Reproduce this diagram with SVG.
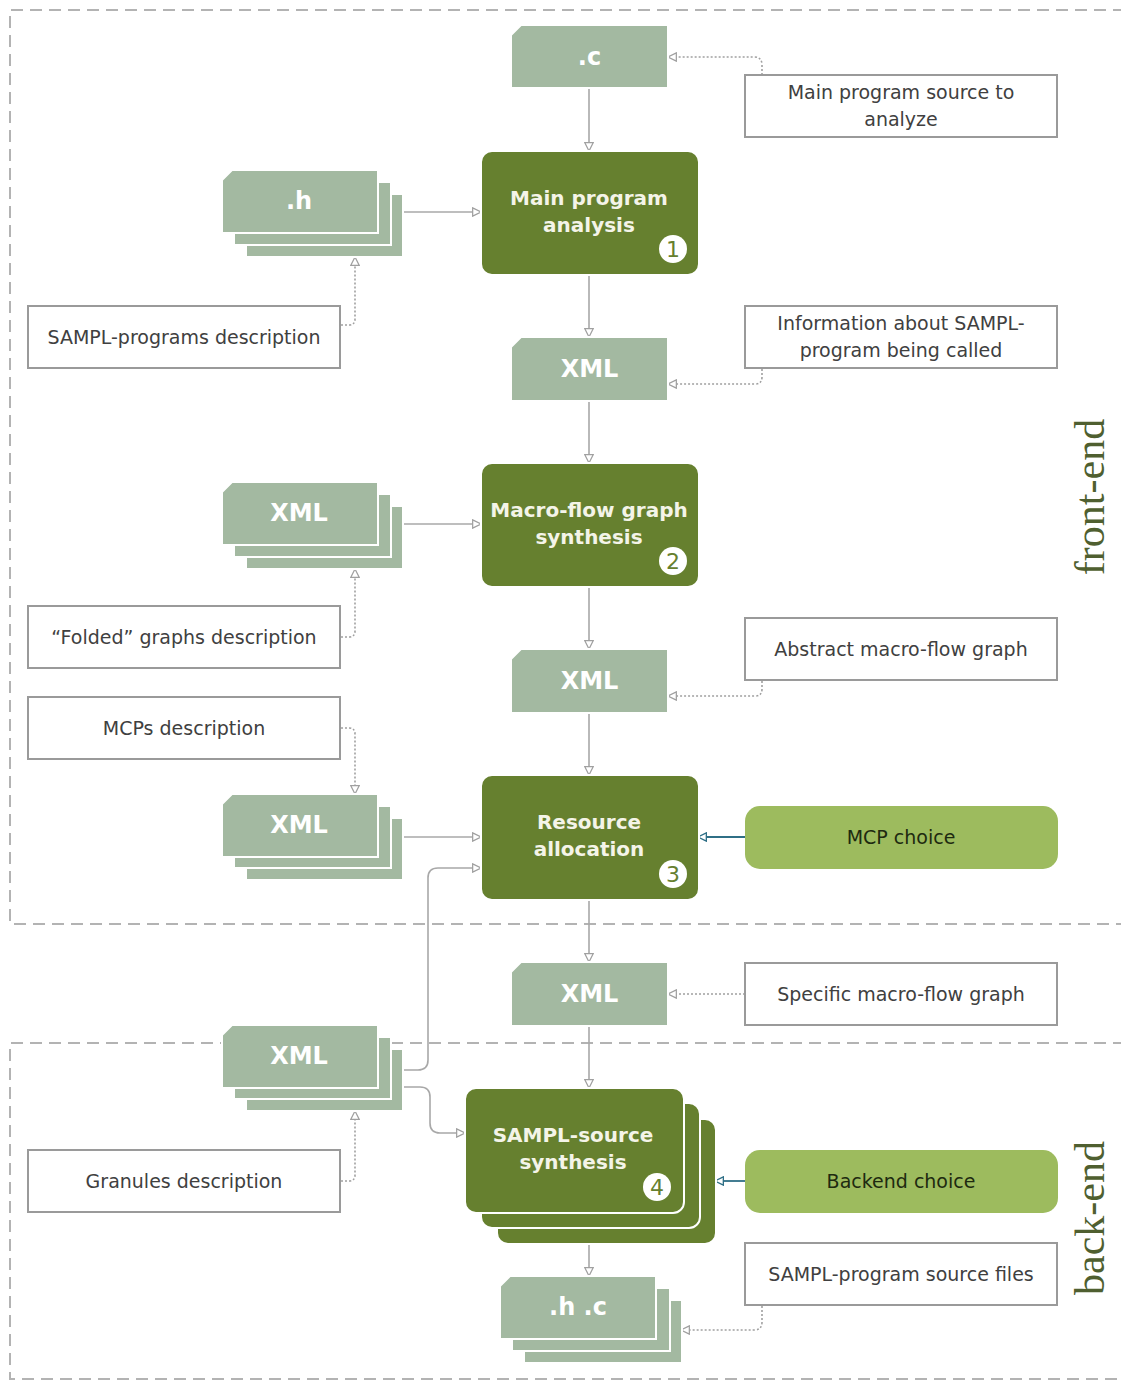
<svg xmlns="http://www.w3.org/2000/svg" width="1121" height="1381" viewBox="0 0 1121 1381">
<style>
.doc{fill:#a3b9a1;stroke:#ffffff;stroke-width:2}
.proc{fill:#66802f;stroke:#ffffff;stroke-width:2}
.choice{fill:#9dbb5e}
.note{fill:#ffffff;stroke:#9a9a9a;stroke-width:2}
.region{fill:none;stroke:#b3b3b3;stroke-width:2;stroke-dasharray:12 7}
.dt{font-family:"DejaVu Sans",Verdana,sans-serif;font-weight:bold;font-size:24px;fill:#ffffff;text-anchor:middle}
.pt{font-family:"DejaVu Sans",Verdana,sans-serif;font-weight:bold;font-size:20px;fill:#f4f4e8;text-anchor:middle}
.nt{font-family:"DejaVu Sans",Verdana,sans-serif;font-size:19px;fill:#404040;text-anchor:middle}
.ct{font-family:"DejaVu Sans",Verdana,sans-serif;font-size:19px;fill:#1e2a10;text-anchor:middle}
.num{font-family:"DejaVu Sans",Verdana,sans-serif;font-size:22px;fill:#66802f;text-anchor:middle}
.lab{font-family:"Liberation Serif","Times New Roman",serif;font-size:42px;fill:#4f5f30;text-anchor:middle}
.solid{fill:none;stroke:#a8a8a8;stroke-width:1.6;marker-end:url(#tri)}
.dot{fill:none;stroke:#a0a0a0;stroke-width:1.6;stroke-dasharray:2 2;marker-end:url(#tri)}
.blue{fill:none;stroke:#2f6f86;stroke-width:1.8;marker-end:url(#triB)}
</style>
<defs>
<marker id="tri" viewBox="0 0 12 12" refX="11" refY="6" markerWidth="10" markerHeight="10" markerUnits="userSpaceOnUse" orient="auto">
<path d="M1,1 L11,6 L1,11 Z" fill="#ffffff" stroke="#a0a0a0" stroke-width="1.5"/>
</marker>
<marker id="triB" viewBox="0 0 12 12" refX="11" refY="6" markerWidth="10" markerHeight="10" markerUnits="userSpaceOnUse" orient="auto">
<path d="M1,1 L11,6 L1,11 Z" fill="#ffffff" stroke="#2f6f86" stroke-width="1.6"/>
</marker>
</defs>
<rect width="1121" height="1381" fill="#ffffff"/>

<g id="regions">
<path class="region" d="M1125,10 L10,10 L10,924 L1125,924"/>
<path class="region" d="M1125,1043 L10,1043 L10,1379 L1125,1379"/>
<text class="lab" transform="translate(1104,497) rotate(-90)">front-end</text>
<text class="lab" transform="translate(1104,1218) rotate(-90)">back-end</text>
</g>

<g id="connectors">
<path class="solid" d="M589,88 L589,151"/>
<path class="solid" d="M589,275 L589,337"/>
<path class="solid" d="M589,401 L589,463"/>
<path class="solid" d="M589,587 L589,649"/>
<path class="solid" d="M589,713 L589,775"/>
<path class="solid" d="M589,900 L589,962"/>
<path class="solid" d="M589,1026 L589,1088"/>
<path class="solid" d="M589,1244 L589,1276"/>
<path class="solid" d="M404,212 L481,212"/>
<path class="solid" d="M404,524 L481,524"/>
<path class="solid" d="M403,837 L481,837"/>
<path class="solid" d="M403,1070 L418,1070 Q428,1070 428,1060 L428,878 Q428,868 438,868 L481,868"/>
<path class="solid" d="M403,1087 L420,1087 Q430,1087 430,1097 L430,1123 Q430,1133 440,1133 L465,1133"/>
<path class="blue" d="M745,837 L698,837"/>
<path class="blue" d="M745,1181 L715,1181"/>
<path class="dot" d="M762,75 L762,65 Q762,57 754,57 L668,57"/>
<path class="dot" d="M341,325 L349,325 Q355,325 355,319 L355,257"/>
<path class="dot" d="M762,369 L762,377 Q762,384 755,384 L668,384"/>
<path class="dot" d="M341,637 L349,637 Q355,637 355,631 L355,569"/>
<path class="dot" d="M762,681 L762,689 Q762,696 755,696 L668,696"/>
<path class="dot" d="M341,728 L349,728 Q355,728 355,734 L355,794"/>
<path class="dot" d="M745,994 L668,994"/>
<path class="dot" d="M341,1181 L349,1181 Q355,1181 355,1175 L355,1111"/>
<path class="dot" d="M762,1306 L762,1322 Q762,1330 754,1330 L681,1330"/>
</g>

<g id="doc-c">
<path class="doc" d="M521,25 L668,25 L668,88 L511,88 L511,35 Z"/>
<text class="dt" x="589.5" y="65">.c</text>
</g>
<g id="doc-h">
<rect class="doc" x="246" y="194" width="157" height="63"/>
<rect class="doc" x="234" y="182" width="157" height="63"/>
<path class="doc" d="M232,170 L378,170 L378,233 L222,233 L222,180 Z"/>
<text class="dt" x="299" y="209">.h</text>
</g>
<g id="doc-xml1">
<path class="doc" d="M521,337 L668,337 L668,401 L511,401 L511,347 Z"/>
<text class="dt" x="589.5" y="377">XML</text>
</g>
<g id="doc-xml-stack2">
<rect class="doc" x="246" y="506" width="157" height="63"/>
<rect class="doc" x="234" y="494" width="157" height="63"/>
<path class="doc" d="M232,482 L378,482 L378,545 L222,545 L222,492 Z"/>
<text class="dt" x="299" y="521">XML</text>
</g>
<g id="doc-xml2">
<path class="doc" d="M521,649 L668,649 L668,713 L511,713 L511,659 Z"/>
<text class="dt" x="589.5" y="689">XML</text>
</g>
<g id="doc-xml-stack3">
<rect class="doc" x="246" y="818" width="157" height="62"/>
<rect class="doc" x="234" y="806" width="157" height="62"/>
<path class="doc" d="M232,794 L378,794 L378,857 L222,857 L222,804 Z"/>
<text class="dt" x="299" y="833">XML</text>
</g>
<g id="doc-xml3">
<path class="doc" d="M521,962 L668,962 L668,1026 L511,1026 L511,972 Z"/>
<text class="dt" x="589.5" y="1002">XML</text>
</g>
<g id="doc-xml-stack4">
<rect class="doc" x="246" y="1049" width="157" height="62"/>
<rect class="doc" x="234" y="1037" width="157" height="62"/>
<path class="doc" d="M232,1025 L378,1025 L378,1088 L222,1088 L222,1035 Z"/>
<text class="dt" x="299" y="1064">XML</text>
</g>
<g id="doc-hc">
<rect class="doc" x="524" y="1300" width="158" height="63"/>
<rect class="doc" x="512" y="1288" width="158" height="63"/>
<path class="doc" d="M510,1276 L656,1276 L656,1339 L500,1339 L500,1286 Z"/>
<text class="dt" x="578" y="1315">.h .c</text>
</g>

<g id="proc-main">
<rect class="proc" x="481" y="151" width="218" height="124" rx="11"/>
<text class="pt" x="589" y="205">Main program</text>
<text class="pt" x="589" y="232">analysis</text>
<circle cx="673" cy="249" r="14" fill="#ffffff"/>
<text class="num" x="673" y="257">1</text>
</g>
<g id="proc-macro">
<rect class="proc" x="481" y="463" width="218" height="124" rx="11"/>
<text class="pt" x="589" y="517">Macro-flow graph</text>
<text class="pt" x="589" y="544">synthesis</text>
<circle cx="673" cy="561" r="14" fill="#ffffff"/>
<text class="num" x="673" y="569">2</text>
</g>
<g id="proc-resource">
<rect class="proc" x="481" y="775" width="218" height="125" rx="11"/>
<text class="pt" x="589" y="829">Resource</text>
<text class="pt" x="589" y="856">allocation</text>
<circle cx="673" cy="874" r="14" fill="#ffffff"/>
<text class="num" x="673" y="882">3</text>
</g>
<g id="proc-sampl">
<rect class="proc" x="497" y="1119" width="219" height="125" rx="11"/>
<rect class="proc" x="481" y="1103" width="219" height="125" rx="11"/>
<rect class="proc" x="465" y="1088" width="219" height="125" rx="11"/>
<text class="pt" x="573" y="1142">SAMPL-source</text>
<text class="pt" x="573" y="1169">synthesis</text>
<circle cx="657" cy="1187" r="14" fill="#ffffff"/>
<text class="num" x="657" y="1195">4</text>
</g>

<g id="choice-mcp">
<rect class="choice" x="745" y="806" width="313" height="63" rx="15"/>
<text class="ct" x="901" y="844">MCP choice</text>
</g>
<g id="choice-backend">
<rect class="choice" x="745" y="1150" width="313" height="63" rx="15"/>
<text class="ct" x="901" y="1188">Backend choice</text>
</g>

<g id="note-main-src">
<rect class="note" x="745" y="75" width="312" height="62"/>
<text class="nt" x="901" y="99">Main program source to</text>
<text class="nt" x="901" y="126">analyze</text>
</g>
<g id="note-sampl-desc">
<rect class="note" x="28" y="306" width="312" height="62"/>
<text class="nt" x="184" y="344">SAMPL-programs description</text>
</g>
<g id="note-info">
<rect class="note" x="745" y="306" width="312" height="62"/>
<text class="nt" x="901" y="330">Information about SAMPL-</text>
<text class="nt" x="901" y="357">program being called</text>
</g>
<g id="note-folded">
<rect class="note" x="28" y="606" width="312" height="62"/>
<text class="nt" x="184" y="644">“Folded” graphs description</text>
</g>
<g id="note-abstract">
<rect class="note" x="745" y="618" width="312" height="62"/>
<text class="nt" x="901" y="656">Abstract macro-flow graph</text>
</g>
<g id="note-mcps">
<rect class="note" x="28" y="697" width="312" height="62"/>
<text class="nt" x="184" y="735">MCPs description</text>
</g>
<g id="note-specific">
<rect class="note" x="745" y="963" width="312" height="62"/>
<text class="nt" x="901" y="1001">Specific macro-flow graph</text>
</g>
<g id="note-granules">
<rect class="note" x="28" y="1150" width="312" height="62"/>
<text class="nt" x="184" y="1188">Granules description</text>
</g>
<g id="note-src-files">
<rect class="note" x="745" y="1243" width="312" height="62"/>
<text class="nt" x="901" y="1281">SAMPL-program source files</text>
</g>
</svg>
